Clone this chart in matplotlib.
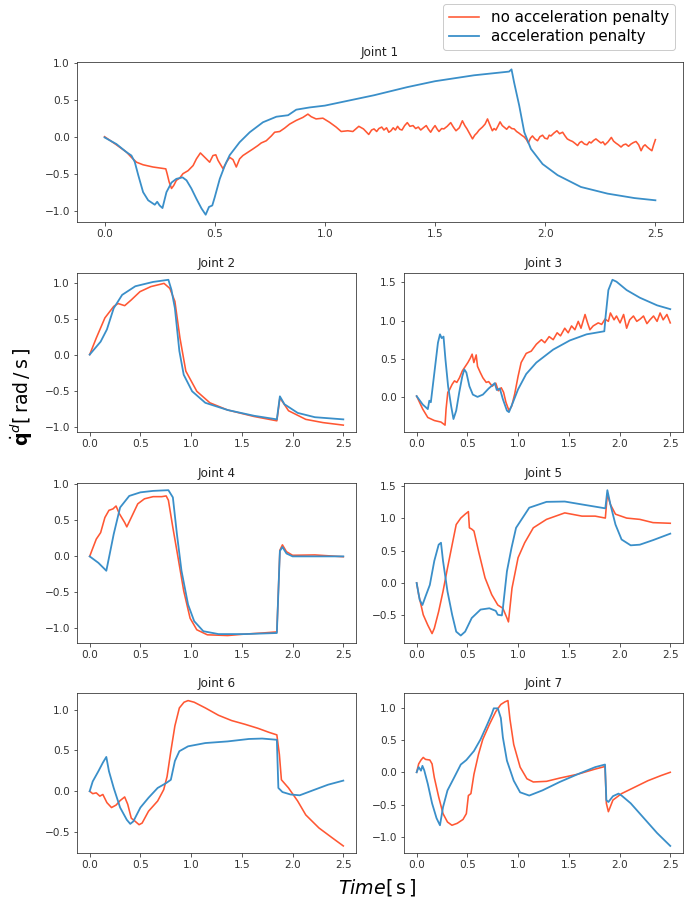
import matplotlib
matplotlib.use('Agg')
import matplotlib.pyplot as plt
from matplotlib.gridspec import GridSpec

RED = '#ff5733'
BLUE = '#3a8fc9'
labels = ['no acceleration penalty', 'acceleration penalty']
titles = ['Joint 1', 'Joint 2', 'Joint 3', 'Joint 4', 'Joint 5', 'Joint 6', 'Joint 7']

# ---- Joint 1 ----
j1_red_t = [0.0, 0.054, 0.10, 0.122, 0.145, 0.175, 0.22, 0.278, 0.284, 0.293, 0.304, 0.314, 0.326,
            0.341, 0.356, 0.379, 0.402, 0.417, 0.435, 0.447, 0.462, 0.477, 0.492, 0.505, 0.515,
            0.538, 0.553, 0.568, 0.583, 0.598, 0.613, 0.628, 0.651, 0.674, 0.696, 0.711, 0.734,
            0.757, 0.772, 0.795, 0.817, 0.84, 0.87, 0.90, 0.923, 0.938, 0.96, 0.991, 1.021, 1.051,
            1.074, 1.104, 1.127, 1.154, 1.175, 1.199,
            1.212, 1.223, 1.235, 1.245, 1.258, 1.268, 1.28, 1.29, 1.30, 1.31, 1.32, 1.33, 1.34,
            1.35, 1.362, 1.374, 1.386, 1.40, 1.412, 1.424, 1.435, 1.447, 1.46, 1.47, 1.48, 1.49,
            1.5, 1.51, 1.518, 1.53, 1.54, 1.555, 1.571, 1.583, 1.595, 1.61, 1.624, 1.635, 1.645,
            1.657, 1.67, 1.68, 1.69, 1.70, 1.715, 1.727, 1.738, 1.75, 1.76, 1.768, 1.776, 1.785,
            1.795, 1.805, 1.813, 1.825, 1.836, 1.848, 1.859, 1.87, 1.88, 1.893, 1.905, 1.915,
            1.923, 1.933, 1.942, 1.953, 1.965, 1.976, 1.988, 1.998, 2.01, 2.018, 2.026, 2.04,
            2.053, 2.065, 2.079, 2.09, 2.10, 2.112, 2.124, 2.135, 2.147, 2.156, 2.165, 2.178,
            2.19, 2.2, 2.208, 2.22, 2.23, 2.242, 2.253, 2.262, 2.271, 2.285, 2.30, 2.31, 2.32,
            2.332, 2.344, 2.355, 2.366, 2.378, 2.389, 2.40, 2.412, 2.424, 2.435, 2.445, 2.453,
            2.463, 2.473, 2.484, 2.492, 2.5]
j1_red_v = [0.01, -0.10, -0.20, -0.27, -0.335, -0.37, -0.40, -0.425, -0.49, -0.60, -0.69, -0.65, -0.58,
            -0.55, -0.49, -0.45, -0.38, -0.29, -0.21, -0.245, -0.29, -0.335, -0.245, -0.235, -0.31,
            -0.425, -0.335, -0.27, -0.30, -0.40, -0.29, -0.245, -0.20, -0.155, -0.11, -0.075, -0.045,
            0.02, 0.07, 0.08, 0.125, 0.18, 0.23, 0.27, 0.315, 0.28, 0.25, 0.26, 0.205, 0.14,
            0.08, 0.09, 0.08, 0.15, 0.115, 0.04,
            0.10, 0.115, 0.08, 0.12, 0.14, 0.10, 0.13, 0.07, 0.09, 0.13, 0.10, 0.15, 0.11,
            0.10, 0.16, 0.20, 0.15, 0.16, 0.12, 0.14, 0.10, 0.13, 0.16, 0.11, 0.07, 0.12,
            0.16, 0.11, 0.08, 0.12, 0.115, 0.15, 0.20, 0.14, 0.09, 0.13, 0.225, 0.16, 0.115,
            0.05, -0.02, 0.03, 0.06, 0.10, 0.14, 0.18, 0.25, 0.16, 0.09, 0.12, 0.10, 0.15,
            0.21, 0.16, 0.14, 0.11, 0.15, 0.12, 0.115, 0.08, 0.06, 0.03, 0.005, -0.03,
            -0.075, -0.01, 0.02, -0.02, -0.045, 0.01, 0.03, -0.01, -0.02, 0.03, 0.02, 0.06,
            0.09, 0.05, 0.07, 0.02, -0.02, -0.04, -0.055, -0.08, -0.11, -0.07, -0.055, -0.09,
            -0.10, -0.06, -0.075, -0.04, -0.02, -0.05, -0.075, -0.06, -0.10, -0.06, 0.00, -0.05, -0.075,
            -0.10, -0.13, -0.10, -0.09, -0.12, -0.09, -0.07, -0.055, -0.10, -0.18, -0.12, -0.10,
            -0.13, -0.155, -0.18, -0.10, -0.03]
j1_blue_t = [0.0, 0.054, 0.10, 0.122, 0.137, 0.153, 0.175, 0.198, 0.228, 0.239, 0.25, 0.263, 0.281,
             0.304, 0.326, 0.354, 0.372, 0.394, 0.417, 0.44, 0.459, 0.474, 0.489, 0.5, 0.523, 0.546,
             0.568, 0.613, 0.659, 0.719, 0.78, 0.833, 0.87, 0.93, 1.0, 1.223, 1.374, 1.5, 1.677,
             1.836, 1.847, 1.859, 1.882, 1.905, 1.935, 1.988, 2.056, 2.162, 2.283, 2.405, 2.5]
j1_blue_v = [0.0, -0.09, -0.2, -0.245, -0.33, -0.51, -0.74, -0.85, -0.91, -0.87, -0.92, -0.955, -0.74,
             -0.61, -0.56, -0.54, -0.58, -0.69, -0.83, -0.96, -1.045, -0.94, -0.92, -0.81, -0.56, -0.38,
             -0.24, -0.065, 0.07, 0.205, 0.28, 0.30, 0.375, 0.405, 0.43, 0.57, 0.68, 0.76, 0.84,
             0.89, 0.92, 0.74, 0.43, 0.07, -0.155, -0.36, -0.51, -0.67, -0.76, -0.82, -0.85]

# ---- Joint 2 ----
j2_red_t = [0.0, 0.065, 0.15, 0.237, 0.28, 0.345, 0.41, 0.496, 0.603, 0.733, 0.79, 0.84, 0.89,
            0.948, 1.056, 1.185, 1.36, 1.62, 1.845, 1.875, 1.96, 2.13, 2.3, 2.5]
j2_red_v = [0.0, 0.23, 0.51, 0.67, 0.71, 0.68, 0.76, 0.875, 0.945, 0.99, 0.92, 0.74, 0.23,
            -0.23, -0.51, -0.67, -0.77, -0.86, -0.92, -0.60, -0.78, -0.90, -0.945, -0.98]
j2_blue_t = [0.0, 0.108, 0.17, 0.237, 0.32, 0.45, 0.625, 0.776, 0.806, 0.84, 0.884, 0.927, 1.01,
             1.14, 1.36, 1.62, 1.845, 1.875, 1.92, 2.05, 2.22, 2.5]
j2_blue_v = [0.0, 0.18, 0.35, 0.645, 0.83, 0.95, 1.01, 1.04, 0.9, 0.645, 0.05, -0.28, -0.51,
             -0.67, -0.77, -0.85, -0.9, -0.58, -0.69, -0.81, -0.87, -0.9]

# ---- Joint 3 ----
j3_red_t = [0.0, 0.06, 0.11, 0.175, 0.24, 0.28, 0.29, 0.307, 0.323, 0.35, 0.373, 0.396, 0.422,
            0.45, 0.48, 0.505, 0.53, 0.547, 0.564, 0.587, 0.6, 0.627, 0.653, 0.686, 0.71, 0.745,
            0.78, 0.805, 0.834, 0.857, 0.88, 0.91, 0.937, 0.966, 1.0, 1.03, 1.08, 1.13, 1.18,
            1.23, 1.263, 1.306, 1.346, 1.385, 1.418, 1.46, 1.494, 1.527, 1.56, 1.593, 1.62, 1.66,
            1.685, 1.708, 1.74, 1.79, 1.824, 1.857, 1.89, 1.91, 1.946, 1.97, 2.005, 2.04, 2.07,
            2.1, 2.137, 2.17, 2.203, 2.236, 2.27, 2.3, 2.335, 2.37, 2.4, 2.43, 2.467, 2.5]
j3_red_v = [0.01, -0.16, -0.27, -0.31, -0.33, -0.37, -0.16, 0.06, 0.09, 0.165, 0.21, 0.19, 0.25,
            0.34, 0.40, 0.45, 0.51, 0.56, 0.45, 0.55, 0.40, 0.32, 0.25, 0.19, 0.20, 0.14,
            0.18, 0.08, 0.12, 0.06, -0.07, -0.18, -0.12, 0.035, 0.27, 0.45, 0.57, 0.60, 0.69,
            0.75, 0.71, 0.79, 0.75, 0.84, 0.80, 0.90, 0.84, 0.93, 0.88, 0.99, 0.90, 1.08,
            0.97, 0.88, 0.93, 0.97, 0.95, 1.02, 0.99, 1.10, 1.01, 1.06, 0.97, 1.08, 0.90,
            1.01, 1.06, 0.99, 1.02, 1.06, 0.96, 1.01, 1.06, 0.99, 1.10, 1.01, 1.08, 0.97]
j3_blue_t = [0.0, 0.06, 0.11, 0.125, 0.14, 0.175, 0.21, 0.23, 0.247, 0.265, 0.284, 0.31, 0.34,
             0.363, 0.39, 0.42, 0.45, 0.47, 0.49, 0.52, 0.554, 0.6, 0.653, 0.71, 0.77, 0.79,
             0.82, 0.85, 0.89, 0.91, 0.95, 1.0, 1.08, 1.18, 1.346, 1.51, 1.675, 1.85, 1.863,
             1.89, 1.93, 1.97, 2.07, 2.2, 2.37, 2.5]
j3_blue_v = [0.01, -0.1, -0.16, -0.05, -0.07, 0.32, 0.71, 0.82, 0.77, 0.79, 0.49, 0.14, -0.12,
             -0.29, -0.18, 0.06, 0.27, 0.36, 0.32, 0.14, 0.03, 0.0, 0.03, 0.11, 0.18, 0.09,
             0.11, -0.03, -0.18, -0.2, -0.07, 0.1, 0.3, 0.45, 0.62, 0.74, 0.82, 0.86, 1.06,
             1.40, 1.535, 1.51, 1.40, 1.30, 1.2, 1.15]

# ---- Joint 4 ----
j4_red_t = [0.0, 0.02, 0.065, 0.108, 0.15, 0.19, 0.23, 0.26, 0.29, 0.345, 0.366, 0.41, 0.474,
            0.54, 0.625, 0.71, 0.754, 0.776, 0.82, 0.86, 0.927, 0.99, 1.056, 1.16, 1.36, 1.53,
            1.7, 1.845, 1.875, 1.9, 1.94, 2.0, 2.22, 2.5]
j4_red_v = [0.0, 0.075, 0.24, 0.33, 0.54, 0.64, 0.66, 0.70, 0.6, 0.47, 0.41, 0.54, 0.73,
            0.80, 0.83, 0.83, 0.84, 0.78, 0.4, 0.075, -0.48, -0.86, -1.02, -1.09, -1.10, -1.08,
            -1.065, -1.05, 0.085, 0.16, 0.065, 0.015, 0.02, -0.005]
j4_blue_t = [0.0, 0.086, 0.15, 0.164, 0.19, 0.237, 0.3, 0.39, 0.5, 0.625, 0.776, 0.82, 0.86,
             0.905, 0.97, 1.03, 1.12, 1.27, 1.53, 1.845, 1.875, 1.9, 1.94, 2.0, 2.5]
j4_blue_v = [0.0, -0.09, -0.18, -0.2, -0.02, 0.31, 0.68, 0.84, 0.89, 0.91, 0.92, 0.82, 0.31,
             -0.2, -0.67, -0.9, -1.04, -1.08, -1.08, -1.065, 0.075, 0.13, 0.04, 0.0, 0.0]

# ---- Joint 5 ----
j5_red_t = [0.0, 0.02, 0.065, 0.11, 0.152, 0.174, 0.217, 0.26, 0.304, 0.35, 0.39, 0.435, 0.478,
            0.51, 0.52, 0.543, 0.565, 0.61, 0.674, 0.74, 0.8, 0.85, 0.89, 0.905, 0.94, 1.0,
            1.065, 1.15, 1.28, 1.46, 1.63, 1.76, 1.86, 1.88, 1.91, 1.96, 2.07, 2.2, 2.33, 2.5]
j5_red_v = [0.0, -0.18, -0.49, -0.65, -0.78, -0.70, -0.44, -0.13, 0.23, 0.59, 0.90, 1.0, 1.06,
            1.10, 0.85, 0.83, 0.8, 0.49, 0.08, -0.18, -0.34, -0.39, -0.54, -0.6, -0.08, 0.39,
            0.62, 0.85, 0.98, 1.08, 1.03, 1.03, 1.0, 1.37, 1.21, 1.06, 1.0, 0.98, 0.93, 0.92]
j5_blue_t = [0.0, 0.03, 0.057, 0.087, 0.13, 0.174, 0.217, 0.24, 0.26, 0.304, 0.35, 0.39, 0.435,
             0.478, 0.543, 0.63, 0.717, 0.78, 0.8, 0.84, 0.85, 0.89, 0.935, 0.98, 1.11, 1.28,
             1.46, 1.63, 1.86, 1.88, 1.91, 1.96, 2.02, 2.11, 2.2, 2.33, 2.5]
j5_blue_v = [0.0, -0.26, -0.34, -0.21, -0.03, 0.34, 0.59, 0.62, 0.34, -0.13, -0.49, -0.75, -0.81,
             -0.75, -0.54, -0.41, -0.39, -0.43, -0.49, -0.5, -0.39, 0.18, 0.54, 0.85, 1.16, 1.25,
             1.255, 1.21, 1.15, 1.43, 1.21, 0.90, 0.67, 0.58, 0.59, 0.66, 0.76]

# ---- Joint 6 ----
j6_red_t = [0.0, 0.03, 0.065, 0.1, 0.13, 0.17, 0.215, 0.26, 0.3, 0.345, 0.375, 0.41, 0.45, 0.487,
            0.517, 0.58, 0.67, 0.73, 0.763, 0.8, 0.84, 0.884, 0.93, 0.97, 1.03, 1.14, 1.27, 1.4,
            1.53, 1.66, 1.77, 1.845, 1.87, 1.89, 1.96, 2.05, 2.13, 2.26, 2.39, 2.5]
j6_red_v = [0.0, -0.03, -0.02, -0.06, -0.04, -0.14, -0.2, -0.17, -0.115, -0.07, -0.16, -0.33, -0.37,
            -0.41, -0.39, -0.245, -0.12, 0.02, 0.18, 0.49, 0.80, 1.02, 1.09, 1.11, 1.09, 1.02, 0.93,
            0.865, 0.82, 0.77, 0.72, 0.69, 0.45, 0.14, 0.04, -0.12, -0.29, -0.45, -0.57, -0.67]
j6_blue_t = [0.0, 0.03, 0.086, 0.13, 0.164, 0.19, 0.237, 0.3, 0.366, 0.4, 0.43, 0.5, 0.58, 0.67,
             0.754, 0.8, 0.84, 0.884, 0.97, 1.14, 1.36, 1.57, 1.7, 1.845, 1.86, 1.9, 1.98, 2.07,
             2.22, 2.35, 2.5]
j6_blue_v = [0.0, 0.12, 0.245, 0.35, 0.42, 0.245, 0.04, -0.2, -0.35, -0.4, -0.37, -0.2, -0.08, 0.04,
             0.1, 0.14, 0.37, 0.49, 0.55, 0.59, 0.61, 0.64, 0.645, 0.63, 0.04, -0.01, -0.04, -0.05,
             0.02, 0.08, 0.13]

# ---- Joint 7 ----
j7_red_t = [0.0, 0.02, 0.043, 0.065, 0.087, 0.13, 0.152, 0.174, 0.217, 0.26, 0.304, 0.348, 0.4,
            0.457, 0.49, 0.51, 0.535, 0.565, 0.61, 0.652, 0.717, 0.78, 0.83, 0.87, 0.9, 0.92,
            0.957, 1.02, 1.087, 1.15, 1.28, 1.41, 1.587, 1.76, 1.857, 1.87, 1.89, 1.935, 2.02,
            2.15, 2.28, 2.41, 2.5]
j7_red_v = [0.0, 0.13, 0.19, 0.23, 0.2, 0.19, 0.13, -0.08, -0.38, -0.64, -0.77, -0.82, -0.79,
            -0.73, -0.64, -0.36, -0.33, -0.03, 0.28, 0.51, 0.74, 0.94, 1.05, 1.09, 1.11, 0.82,
            0.43, 0.08, -0.1, -0.15, -0.14, -0.09, -0.03, 0.05, 0.09, -0.48, -0.61, -0.43, -0.33,
            -0.23, -0.13, -0.05, 0.0]
j7_blue_t = [0.0, 0.02, 0.043, 0.057, 0.075, 0.11, 0.152, 0.196, 0.23, 0.26, 0.304, 0.37, 0.435,
             0.49, 0.565, 0.63, 0.696, 0.74, 0.76, 0.8, 0.83, 0.85, 0.89, 0.957, 1.02, 1.11, 1.24,
             1.41, 1.587, 1.76, 1.857, 1.87, 1.89, 1.935, 1.99, 2.02, 2.11, 2.24, 2.37, 2.5]
j7_blue_v = [0.0, 0.08, 0.025, 0.1, 0.03, -0.18, -0.48, -0.71, -0.82, -0.54, -0.28, -0.08, 0.12,
             0.19, 0.33, 0.51, 0.74, 0.90, 0.99, 0.99, 0.84, 0.54, 0.18, -0.13, -0.31, -0.36, -0.28,
             -0.15, -0.03, 0.08, 0.12, -0.43, -0.46, -0.37, -0.33, -0.36, -0.48, -0.71, -0.94, -1.14]

red_series = [(j1_red_t, j1_red_v), (j2_red_t, j2_red_v), (j3_red_t, j3_red_v), (j4_red_t, j4_red_v),
              (j5_red_t, j5_red_v), (j6_red_t, j6_red_v), (j7_red_t, j7_red_v)]
blue_series = [(j1_blue_t, j1_blue_v), (j2_blue_t, j2_blue_v), (j3_blue_t, j3_blue_v),
               (j4_blue_t, j4_blue_v), (j5_blue_t, j5_blue_v), (j6_blue_t, j6_blue_v),
               (j7_blue_t, j7_blue_v)]

fig = plt.figure(figsize=(685 / 72, 900 / 72), dpi=72)
gs = GridSpec(4, 2, figure=fig, left=0.1124, right=0.997, top=0.931, bottom=0.052,
              hspace=0.316, wspace=0.172)
axes = [fig.add_subplot(gs[0, :])]
for r in range(1, 4):
    for c in range(2):
        axes.append(fig.add_subplot(gs[r, c]))

for ax, title, (rt, rv), (bt, bv) in zip(axes, titles, red_series, blue_series):
    ax.plot(rt, rv, color=RED, lw=1.6, label=labels[0])
    ax.plot(bt, bv, color=BLUE, lw=1.8, label=labels[1])
    ax.set_title(title, fontsize=12, color='#222222')
    ax.set_xticks([0.0, 0.5, 1.0, 1.5, 2.0, 2.5])
    ax.tick_params(labelsize=10.5, colors='#333333')
    for s in ax.spines.values():
        s.set_edgecolor('#333333')

h, l = axes[0].get_legend_handles_labels()
fig.legend(h, l, loc='upper right', bbox_to_anchor=(0.997, 1.004), fontsize=15,
           handlelength=2.0, framealpha=1.0, borderpad=0.4, labelspacing=0.3)

fig.text(22 / 685, 1 - 397 / 900, r'$\dot{\mathbf{q}}^d[\,\mathrm{rad\,/\,s}\,]$', rotation=90,
         ha='center', va='center', fontsize=19)
fig.text(377 / 685, 1 - 887 / 900, r'$\mathit{Time}[\,\mathrm{s}\,]$', ha='center', va='center',
         fontsize=19)

fig.savefig('out.png', dpi=72)
